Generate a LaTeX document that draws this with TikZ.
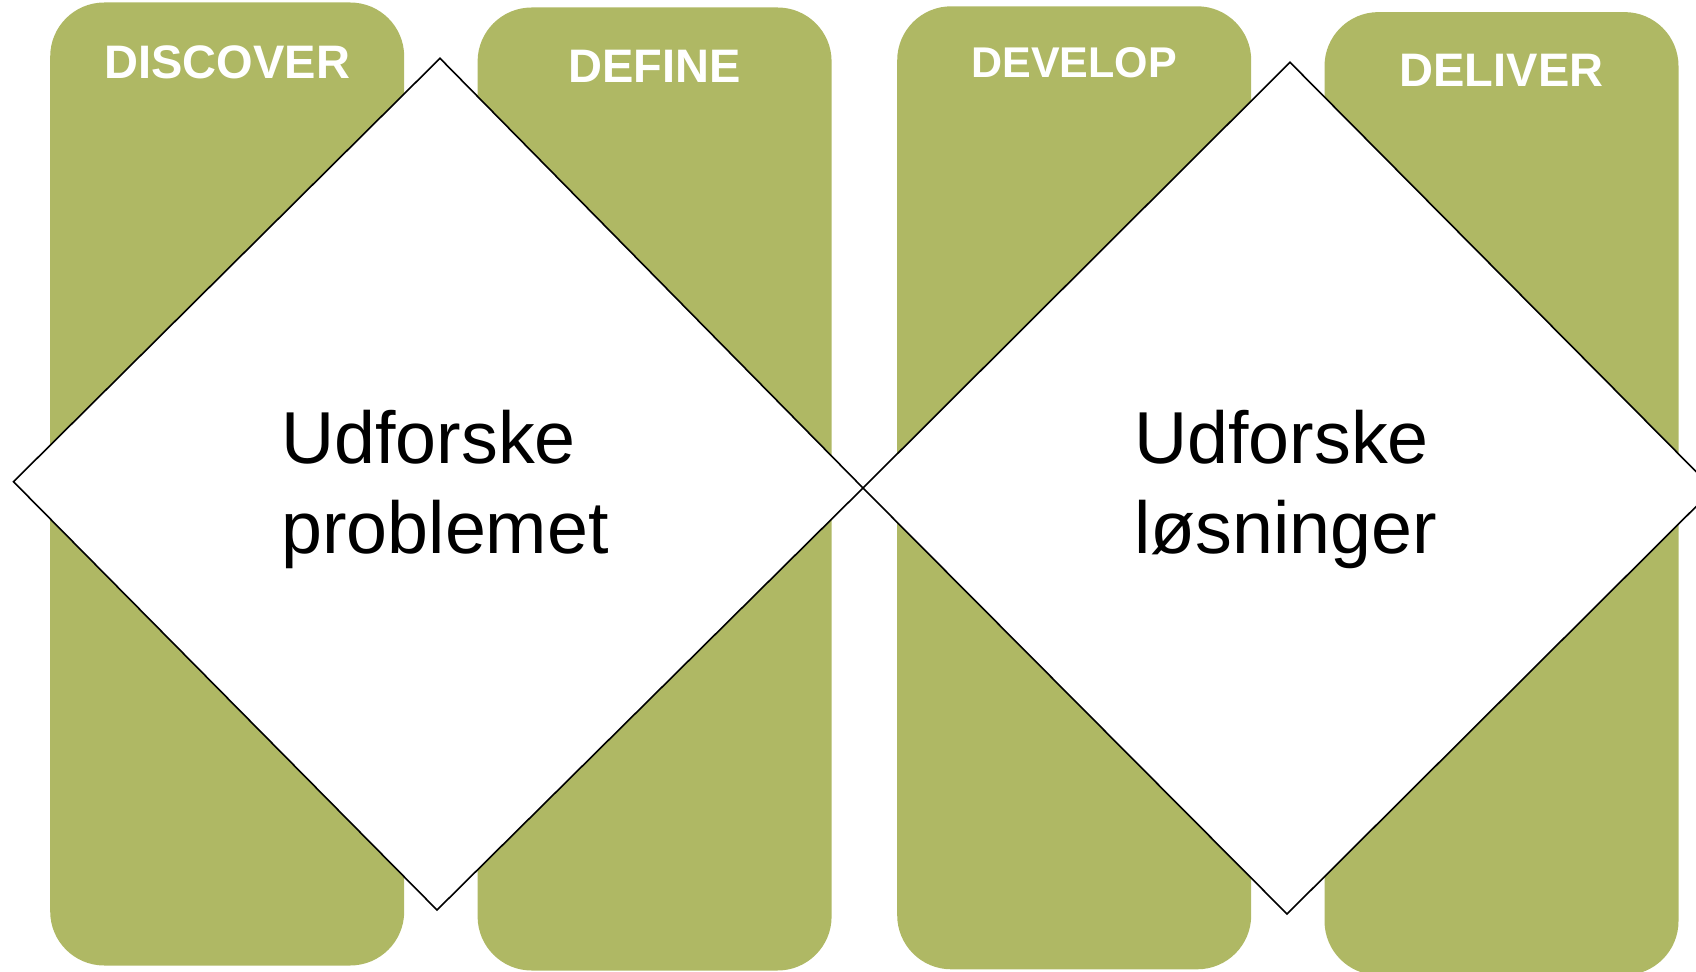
\documentclass[tikz,border=0pt]{standalone}
\usepackage{fontspec}
\setmainfont{Liberation Sans}
\usetikzlibrary{positioning}
\definecolor{phasegreen}{RGB}{175,184,100}

\begin{document}
\begin{tikzpicture}[x=0.5pt,y=-0.5pt,
    phase/.style={fill=phasegreen, rounded corners=27pt, minimum width=177pt, minimum height=481.5pt, inner sep=0pt},
    head/.style={text=white, font=\bfseries\fontsize{23.5}{28}\selectfont, inner sep=0pt},
    big/.style={align=left, font=\fontsize{36.8}{45}\selectfont, inner sep=0pt},
    dia/.style={draw=black, fill=white, line width=0.8pt}]
  \useasboundingbox (0,0) rectangle (1696,972);
  \clip (0,0) rectangle (1696,972);
  % the four phases
  \node[phase] (discover) at (227.2,484) {};
  \node[phase] (define) at (654.6,489) {};
  \node[phase] (develop) at (1074.2,487.8) {};
  \node[phase] (deliver) at (1501.5,493.6) {};
  \node[head, below=21.5pt of discover.north] (discoverlbl) {DISCOVER};
  \node[head, below=21.4pt of define.north] (definelbl) {DEFINE};
  \node[head, below=20.7pt of develop.north, font=\bfseries\fontsize{21.5}{26}\selectfont] (developlbl) {DEVELOP};
  \node[head, below=20.9pt of deliver.north] (deliverlbl) {DELIVER};
  % the double diamond
  \coordinate (mid) at (863,488);
  \coordinate (d1top) at (440,58.3);
  \coordinate (d1bot) at (437,910);
  \coordinate (d1left) at (13.5,481.7);
  \coordinate (d2top) at (1290,62.3);
  \coordinate (d2right) at (1713.5,489.2);
  \coordinate (d2bot) at (1287,914);
  \draw[dia] (d1top) -- (mid) -- (d1bot) -- (d1left) -- cycle;
  \draw[dia] (d2top) -- (d2right) -- (d2bot) -- (mid) -- cycle;
  \node[big, anchor=north west] (problem) at (281,410) {Udforske\\problemet};
  \node[big, anchor=north west] (solution) at (1134,410) {Udforske\\løsninger};
\end{tikzpicture}
\end{document}
